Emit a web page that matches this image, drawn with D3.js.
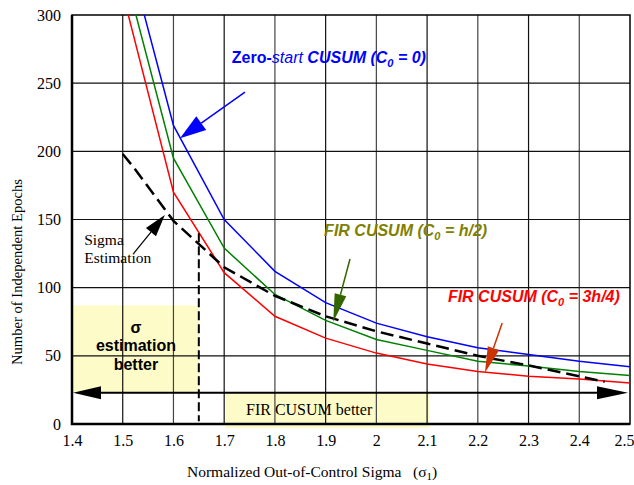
<!DOCTYPE html>
<html>
<head>
<meta charset="utf-8">
<script src="https://cdn.jsdelivr.net/npm/d3@7"></script>
<style>
  body { margin: 0; background: #fff; }
</style>
</head>
<body>
<div id="chart"></div>
<script>
// sigma values on the x axis
var sigma = [1.5, 1.6, 1.7, 1.8, 1.9, 2.0, 2.1, 2.2, 2.3, 2.4, 2.5];
// epochs needed for each scheme
var zeroStart = [360, 219, 150, 112, 89, 74, 64, 56, 51, 46, 42];
var firHalf = [337, 195, 129, 95, 76, 62, 54, 46, 42.5, 38.5, 35.5];
var firThreeQuarter = [316, 170, 111, 79, 63, 52, 44, 38.5, 35, 33, 30];
// sigma estimation (dashed)
var sigmaEstX = [1.5, 1.52, 1.6, 1.7, 1.8, 1.9, 2.0, 2.1, 2.2, 2.3, 2.4, 2.45];
var sigmaEstY = [198, 189, 149, 115, 94, 79, 68, 59, 50, 43, 35, 31];

var xTicks = [1.4, 1.5, 1.6, 1.7, 1.8, 1.9, 2.0, 2.1, 2.2, 2.3, 2.4, 2.5];
var yTicks = [0, 50, 100, 150, 200, 250, 300];

var width = 634, height = 485;
var margin = {left: 72, right: 4, top: 15, bottom: 61};

var serif = "'Liberation Serif', 'Times New Roman', serif";
var sans = "'Liberation Sans', Arial, sans-serif";

var svg = d3.select("#chart").append("svg")
  .attr("width", width)
  .attr("height", height);

var x = d3.scaleLinear().domain([1.4, 2.5]).range([margin.left, width - margin.right]);
var y = d3.scaleLinear().domain([0, 300]).range([height - margin.bottom, margin.top]);

svg.append("defs").append("clipPath").attr("id", "plot-clip")
  .append("rect")
  .attr("x", x(1.4)).attr("y", y(300))
  .attr("width", x(2.5) - x(1.4)).attr("height", y(0) - y(300));

// yellow regions
svg.append("rect")
  .attr("x", x(1.4)).attr("y", y(87))
  .attr("width", x(1.65) - x(1.4)).attr("height", y(23) - y(87))
  .attr("fill", "#fdfcc9");
svg.append("rect")
  .attr("x", x(1.703)).attr("y", y(22))
  .attr("width", x(2.104) - x(1.703)).attr("height", y(-3) - y(22))
  .attr("fill", "#fdfcc9");

// grid lines
svg.append("g")
  .selectAll("line")
  .data(xTicks.slice(1, -1))
  .enter().append("line")
  .attr("x1", d => x(d)).attr("x2", d => x(d))
  .attr("y1", y(0)).attr("y2", y(300))
  .attr("stroke", (d, i) => i % 2 == 0 ? "#111" : "#444")
  .attr("stroke-width", 1.2);
svg.append("g")
  .selectAll("line")
  .data(yTicks.slice(1, -1))
  .enter().append("line")
  .attr("x1", x(1.4)).attr("x2", x(2.5))
  .attr("y1", d => y(d)).attr("y2", d => y(d))
  .attr("stroke", "#111")
  .attr("stroke-width", 1.2);

// axes
var xAxis = svg.append("g")
  .attr("transform", "translate(0," + y(0) + ")")
  .call(d3.axisBottom(x).tickValues(xTicks).tickSize(0).tickPadding(11).tickFormat(d3.format("")));
var yAxis = svg.append("g")
  .attr("transform", "translate(" + x(1.4) + ",0)")
  .call(d3.axisLeft(y).tickValues(yTicks).tickSize(0).tickPadding(11));
[xAxis, yAxis].forEach(function (a) {
  a.select(".domain").remove();
  a.selectAll("text").style("font-family", serif).style("font-size", "16px").attr("fill", "#000");
});
// last label sits against the page edge
xAxis.selectAll(".tick").filter(d => d == 2.5).select("text").attr("x", -6);

// frame
svg.append("rect")
  .attr("x", x(1.4)).attr("y", y(300))
  .attr("width", x(2.5) - x(1.4)).attr("height", y(0) - y(300))
  .attr("fill", "none").attr("stroke", "#000").attr("stroke-width", 1.5);
svg.append("path")
  .attr("d", "M" + x(1.4) + "," + y(300) + "V" + y(0) + "H" + x(2.5))
  .attr("fill", "none").attr("stroke", "#000").attr("stroke-width", 2.5);

// curves
var line = d3.line().x(d => x(d[0])).y(d => y(d[1]));
var curves = svg.append("g").attr("clip-path", "url(#plot-clip)");

function drawCurve(vals, color) {
  curves.append("path")
    .datum(sigma.map((s, i) => [s, vals[i]]))
    .attr("d", line)
    .attr("fill", "none")
    .attr("stroke", color)
    .attr("stroke-width", 1.5);
}
drawCurve(zeroStart, "#0000ff");
drawCurve(firHalf, "#008000");
drawCurve(firThreeQuarter, "#ff0000");

curves.append("path")
  .datum(sigmaEstX.map((s, i) => [s, sigmaEstY[i]]))
  .attr("d", line)
  .attr("fill", "none")
  .attr("stroke", "#000")
  .attr("stroke-width", 2.5)
  .attr("stroke-dasharray", "13,6");

// vertical dashed limit
svg.append("line")
  .attr("x1", x(1.65)).attr("x2", x(1.65))
  .attr("y1", y(140)).attr("y2", y(2))
  .attr("stroke", "#000").attr("stroke-width", 2)
  .attr("stroke-dasharray", "9,4");

// arrows
function arrow(x0, y0, x1, y1, color, headLen, headW, lw) {
  var px0 = x(x0), py0 = y(y0), px1 = x(x1), py1 = y(y1);
  var ang = Math.atan2(py1 - py0, px1 - px0);
  var bx = px1 - headLen * Math.cos(ang), by = py1 - headLen * Math.sin(ang);
  svg.append("line")
    .attr("x1", px0).attr("y1", py0).attr("x2", bx).attr("y2", by)
    .attr("stroke", color).attr("stroke-width", lw);
  var nx = -Math.sin(ang) * headW / 2, ny = Math.cos(ang) * headW / 2;
  svg.append("polygon")
    .attr("points", [[px1, py1], [bx + nx, by + ny], [bx - nx, by - ny]].map(p => p.join(",")).join(" "))
    .attr("fill", color);
}
arrow(1.741, 243.5, 1.613, 209.6, "#0000ff", 26, 17, 1.5);
arrow(1.948, 121, 1.915, 75, "#336600", 28, 12, 1.5);
arrow(2.248, 74, 2.214, 37.6, "#cc3300", 26, 12, 1.5);
arrow(1.522, 125.4, 1.583, 153.3, "#000", 22, 13, 1.2);

// double arrow along the bottom
svg.append("line")
  .attr("x1", x(1.4) + 20).attr("x2", x(2.5) - 20)
  .attr("y1", y(23)).attr("y2", y(23))
  .attr("stroke", "#000").attr("stroke-width", 2);
svg.append("polygon")
  .attr("points", [[x(1.4) + 1, y(23)], [x(1.4) + 29, y(23) - 6.5], [x(1.4) + 29, y(23) + 6.5]].map(p => p.join(",")).join(" "))
  .attr("fill", "#000");
svg.append("polygon")
  .attr("points", [[x(2.5) - 2, y(23)], [x(2.5) - 33, y(23) - 6.5], [x(2.5) - 33, y(23) + 6.5]].map(p => p.join(",")).join(" "))
  .attr("fill", "#000");

// curve labels
function curveLabel(xv, yv, color, parts) {
  var t = svg.append("text")
    .attr("x", x(xv)).attr("y", y(yv))
    .attr("dy", "0.35em")
    .attr("fill", color)
    .style("font-family", sans)
    .style("font-size", "16px")
    .style("font-weight", "bold")
    .style("font-style", "italic");
  parts.forEach(function (p) {
    var s = t.append("tspan").text(p.text);
    if (p.upright) s.style("font-style", "normal");
    if (p.normal) s.style("font-weight", "normal");
    if (p.sub) s.attr("dy", 4).style("font-size", "11px");
    if (p.after) s.attr("dy", -4);
  });
}
curveLabel(1.715, 269, "#0000ff", [
  {text: "Zero-", upright: true}, {text: "start", normal: true}, {text: " CUSUM (C"},
  {text: "0", sub: true}, {text: " = 0)", after: true}
]);
curveLabel(1.897, 142.3, "#808000", [
  {text: "FIR CUSUM (C"}, {text: "0", sub: true}, {text: " = h/2)", after: true}
]);
curveLabel(2.141, 93.9, "#ff0000", [
  {text: "FIR CUSUM (C"}, {text: "0", sub: true}, {text: " = 3h/4)", after: true}
]);

// region annotations
var sigmaLines = ["Sigma", "Estimation"];
svg.append("g").selectAll("text")
  .data(sigmaLines)
  .enter().append("text")
  .attr("x", x(1.424))
  .attr("y", (d, i) => y(135) + i * 18)
  .attr("dy", "0.35em")
  .style("font-family", serif).style("font-size", "15.5px")
  .text(d => d);

var betterLines = ["σ", "estimation", "better"];
svg.append("g").selectAll("text")
  .data(betterLines)
  .enter().append("text")
  .attr("x", x(1.526))
  .attr("y", (d, i) => y(71) + i * 18.5)
  .attr("dy", "0.35em")
  .attr("text-anchor", "middle")
  .style("font-family", sans).style("font-size", "16px").style("font-weight", "bold")
  .text(d => d);

svg.append("text")
  .attr("x", x(1.743)).attr("y", y(11))
  .attr("dy", "0.35em")
  .style("font-family", serif).style("font-size", "16px")
  .text("FIR CUSUM better");

// axis titles
var xTitle = svg.append("text")
  .attr("x", 187).attr("y", 472)
  .attr("dy", "0.35em")
  .style("font-family", serif).style("font-size", "15.5px")
  .style("white-space", "pre")
  .text("Normalized Out-of-Control Sigma   (σ");
xTitle.append("tspan").attr("dy", 3).style("font-size", "11px").text("1");
xTitle.append("tspan").attr("dy", -3).text(")");

svg.append("text")
  .attr("transform", "translate(17,272) rotate(-90)")
  .attr("text-anchor", "middle")
  .attr("dy", "0.35em")
  .style("font-family", serif).style("font-size", "14.6px")
  .text("Number of Independent Epochs");
</script>
</body>
</html>
